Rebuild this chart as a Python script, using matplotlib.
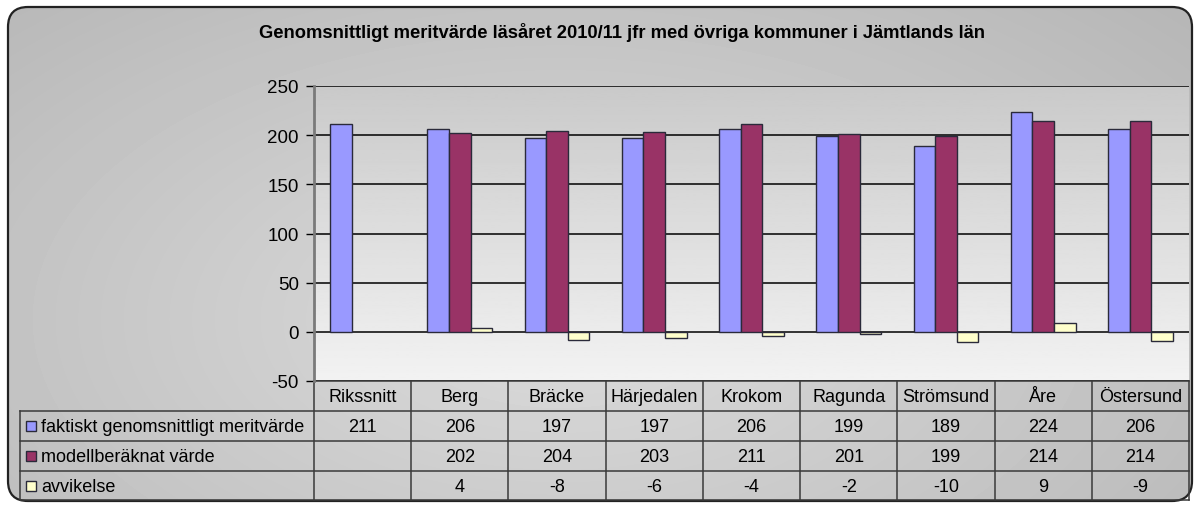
import numpy as np
import matplotlib
matplotlib.use("Agg")
import matplotlib.pyplot as plt
from matplotlib.patches import FancyBboxPatch, Rectangle
from matplotlib.lines import Line2D

plt.rcParams['font.family'] = ['Liberation Sans', 'DejaVu Sans']

title = "Genomsnittligt meritvärde läsåret 2010/11 jfr med övriga kommuner i Jämtlands län"
categories = ["Rikssnitt", "Berg", "Bräcke", "Härjedalen", "Krokom", "Ragunda",
              "Strömsund", "Åre", "Östersund"]
series_names = ["faktiskt genomsnittligt meritvärde", "modellberäknat värde", "avvikelse"]
faktiskt = [211, 206, 197, 197, 206, 199, 189, 224, 206]
modell = [None, 202, 204, 203, 211, 201, 199, 214, 214]
avvikelse = [None, 4, -8, -6, -4, -2, -10, 9, -9]
colors = ["#9999FF", "#993366", "#FFFFCC"]
yticks = [-50, 0, 50, 100, 150, 200, 250]

W, H = 1200, 510
fig = plt.figure(figsize=(W / 100, H / 100), dpi=100)
fig.patch.set_facecolor("white")

def fx(x):
    return x / W

def fy(y):
    return 1 - y / H

# background axes
bg = fig.add_axes([0, 0, 1, 1])
bg.set_xlim(0, W)
bg.set_ylim(H, 0)
bg.axis("off")
yy, xx = np.mgrid[0:H, 0:W]
r = np.sqrt(((xx - 560) / 700.0) ** 2 + ((yy - 320) / 380.0) ** 2)
grad = 0.86 - 0.12 * np.clip(r, 0, 1.2)
im = bg.imshow(grad, cmap="gray", vmin=0, vmax=1, extent=[0, W, H, 0], zorder=0)
frame = FancyBboxPatch((8, 8), W - 16, H - 16, boxstyle="round,pad=0,rounding_size=20",
                       facecolor="none", edgecolor="#222222", linewidth=1.6, zorder=2)
bg.add_patch(frame)
im.set_clip_path(frame)

bg.text(622, 33, title, ha="center", va="center", fontsize=13.2, fontweight="bold", color="black")

# main axes
L, R, T, B = 314, 1189, 87, 382
ax = fig.add_axes([fx(L), fy(B), fx(R - L), (B - T) / H])
ax.set_xlim(-0.5, len(categories) - 0.5)
# plot-area vertical gradient (darker at top, lighter at bottom)
vg = np.linspace(0.79, 0.95, 200).reshape(-1, 1)
ax.imshow(vg, cmap="gray", vmin=0, vmax=1, extent=[-0.5, len(categories) - 0.5, -50, 250],
          origin="upper", aspect="auto", zorder=0)
ax.set_ylim(-50, 250)
for t in yticks:
    ax.axhline(t, color="black", linewidth=1.1, zorder=1)

x = np.arange(len(categories))
bw = 0.222
for k, (vals, c) in enumerate(zip([faktiskt, modell, avvikelse], colors)):
    xs = [xi + (k - 1) * bw for xi, v in zip(x, vals) if v is not None]
    vs = [v for v in vals if v is not None]
    ax.bar(xs, vs, width=bw, color=c, edgecolor="#2a2a3a", linewidth=1.0, zorder=3)

ax.set_yticks(yticks)
ax.set_yticklabels([str(t) for t in yticks], fontsize=13.5)
ax.tick_params(axis="y", length=6, width=1, color="black", pad=5)
ax.set_xticks([])
for s in ["top", "right", "bottom"]:
    ax.spines[s].set_visible(False)
ax.spines["left"].set_color("#7a7a7a")
ax.spines["left"].set_linewidth(2)
ax.spines["left"].set_zorder(4)

# data table
rows_y = [382, 412, 442, 472, 501]
tab_left = 20
ncol = len(categories)
col_w = (R - L) / ncol
col_edges = [L + i * col_w for i in range(ncol + 1)]
lc = "#3a3a3a"
lw = 1.1
bg.add_line(Line2D([L, R], [rows_y[0], rows_y[0]], color=lc, lw=lw, zorder=5))
for yv in rows_y[1:]:
    bg.add_line(Line2D([tab_left, R], [yv, yv], color=lc, lw=lw, zorder=5))
for i, xe in enumerate(col_edges):
    bg.add_line(Line2D([xe, xe], [rows_y[0], rows_y[-1]], color=lc, lw=lw, zorder=5))
bg.add_line(Line2D([tab_left, tab_left], [rows_y[1], rows_y[-1]], color=lc, lw=lw, zorder=5))

fs = 13
for i, cat in enumerate(categories):
    cx = (col_edges[i] + col_edges[i + 1]) / 2
    bg.text(cx, (rows_y[0] + rows_y[1]) / 2 + 1, cat, ha="center", va="center", fontsize=fs)
for r_i, (name, vals, c) in enumerate(zip(series_names, [faktiskt, modell, avvikelse], colors)):
    ymid = (rows_y[r_i + 1] + rows_y[r_i + 2]) / 2
    bg.add_patch(Rectangle((26, ymid - 5), 10, 10, facecolor=c, edgecolor="#2a2a3a", lw=1, zorder=6))
    bg.text(41, ymid + 1, name, ha="left", va="center", fontsize=fs)
    for i, v in enumerate(vals):
        if v is None:
            continue
        cx = (col_edges[i] + col_edges[i + 1]) / 2
        bg.text(cx, ymid + 1, str(v), ha="center", va="center", fontsize=fs)

fig.savefig("out.png", dpi=100)
